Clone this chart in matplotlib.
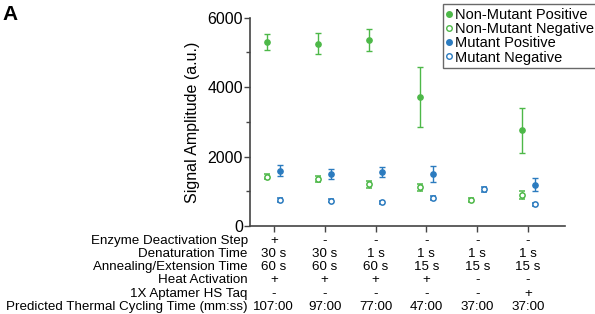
import matplotlib
matplotlib.use("Agg")
import matplotlib.pyplot as plt
from matplotlib.lines import Line2D
import numpy as np

plt.rcParams['font.family'] = ['Liberation Sans', 'DejaVu Sans']

groups = [1, 2, 3, 4, 5, 6]

# signal amplitudes (a.u.), mean and error
nm_pos = [5290, 5250, 5350, 3715, np.nan, 2756]
nm_pos_err = [230, 310, 320, 860, np.nan, 640]
nm_neg = [1420, 1354, 1200, 1115, 758, 902]
nm_neg_err = [75, 90, 90, 100, 60, 115]
mu_pos = [1593, 1489, 1555, 1498, np.nan, 1190]
mu_pos_err = [160, 140, 150, 220, np.nan, 180]
mu_neg = [749, 729, 682, 816, 1057, 624]
mu_neg_err = [50, 50, 50, 60, 70, 50]

row_labels = ["Enzyme Deactivation Step", "Denaturation Time", "Annealing/Extension Time",
              "Heat Activation", "1X Aptamer HS Taq", "Predicted Thermal Cycling Time (mm:ss)"]
table = [
    ["+", "-", "-", "-", "-", "-"],
    ["30 s", "30 s", "1 s", "1 s", "1 s", "1 s"],
    ["60 s", "60 s", "60 s", "15 s", "15 s", "15 s"],
    ["+", "+", "+", "+", "-", "-"],
    ["-", "-", "-", "-", "-", "+"],
    ["107:00", "97:00", "77:00", "47:00", "37:00", "37:00"],
]

green = "#4db848"
blue = "#2b7bbf"

fig = plt.figure(figsize=(5.95, 3.14), dpi=100)
ax = fig.add_axes([0.420, 0.280, 0.530, 0.664])

x = np.array(groups, dtype=float)
off = 0.13
kw = dict(linestyle="none", capsize=2.5, elinewidth=1, capthick=1, markersize=3.8)
ax.errorbar(x - off, nm_pos, yerr=nm_pos_err, marker="o", color=green, **kw)
ax.errorbar(x - off, nm_neg, yerr=nm_neg_err, marker="o", color=green, mfc="white", mew=1.1, **kw)
ax.errorbar(x + off, mu_pos, yerr=mu_pos_err, marker="o", color=blue, **kw)
ax.errorbar(x + off, mu_neg, yerr=mu_neg_err, marker="o", color=blue, mfc="white", mew=1.1, **kw)

ax.set_xlim(0.53, 6.73)
ax.set_ylim(0, 6000)
ax.set_yticks([0, 2000, 4000, 6000])
ax.set_yticks([1000, 3000, 5000], minor=True)
ax.set_xticks(groups)
ax.set_xticklabels([])
ax.tick_params(axis="y", labelsize=11.5, length=4, width=1, colors="#444444", labelcolor="black", pad=1)
ax.tick_params(axis="y", which="minor", length=3, width=1, colors="#444444")
ax.tick_params(axis="x", length=4, width=1, colors="#444444")
for s in ["top", "right"]:
    ax.spines[s].set_visible(False)
for s in ["left", "bottom"]:
    ax.spines[s].set_color("#444444")
    ax.spines[s].set_linewidth(1.2)
ax.set_ylabel("Signal Amplitude (a.u.)", fontsize=11.5, labelpad=5)

# condition table under the axis
row_px = [14.7, 28, 41.3, 54, 68, 80.7]
for r, lab in enumerate(row_labels):
    ax.annotate(lab, xy=(0, 0), xycoords="axes fraction", xytext=(-1.5, -row_px[r] * 0.72),
                textcoords="offset points", ha="right", va="center", fontsize=9.6)
    for g, val in zip(groups, table[r]):
        ax.annotate(val, xy=(g, 0), xycoords=("data", "axes fraction"), xytext=(0, -row_px[r] * 0.72),
                    textcoords="offset points", ha="center", va="center", fontsize=9.6)

handles = [
    Line2D([], [], ls="none", marker="o", ms=4, color=green),
    Line2D([], [], ls="none", marker="o", ms=4, color=green, mfc="white", mew=1),
    Line2D([], [], ls="none", marker="o", ms=4, color=blue),
    Line2D([], [], ls="none", marker="o", ms=4, color=blue, mfc="white", mew=1),
]
labels = ["Non-Mutant Positive", "Non-Mutant Negative", "Mutant Positive", "Mutant Negative"]
leg = fig.legend(handles, labels, loc="upper left", bbox_to_anchor=(443 / 595, 1 - 4 / 314),
                 fontsize=10.5, frameon=True, fancybox=False, handlelength=0.3, handletextpad=0.3,
                 borderpad=0.25, labelspacing=0.02, borderaxespad=0)
leg.get_frame().set_edgecolor("#444444")
leg.get_frame().set_linewidth(1)

fig.text(0.005, 0.985, "A", fontsize=15, fontweight="bold", va="top", ha="left")

fig.savefig("out.png", dpi=100)
